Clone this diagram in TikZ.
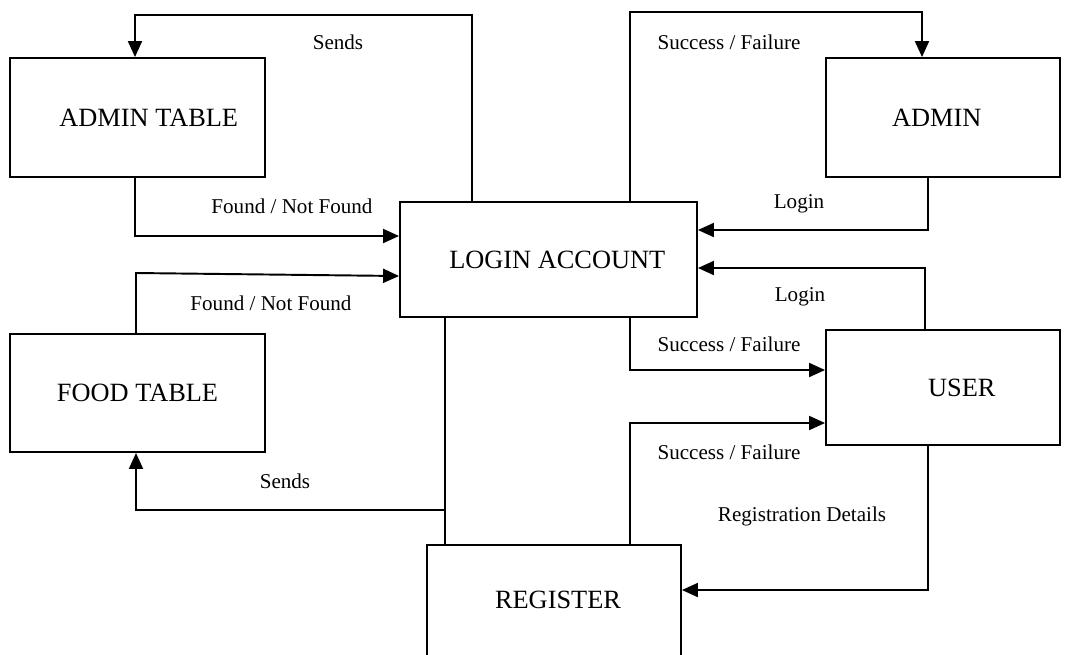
\documentclass[tikz,border=0pt]{standalone}
\usepackage{fontspec}
\setmainfont{Liberation Serif}
\usetikzlibrary{arrows.meta}

\tikzset{
  box/.style={draw, line width=1.1pt, minimum width=5.1cm, minimum height=2.38cm,
    font=\fontsize{15}{18}\selectfont},
  lbl/.style={font=\fontsize{12}{14}\selectfont},
  flow/.style={line width=1.1pt, -{Triangle[length=0.32cm,width=0.28cm]}},
  wire/.style={line width=1.1pt}
}

\begin{document}
\begin{tikzpicture}[x=0.02cm,y=-0.02cm]
      \useasboundingbox (0,0) rectangle (1071,654);

      % The boxes
      \node[box] (admintbl) at (137.5,117.5) {\hspace*{0.45cm}ADMIN TABLE};
      \node[box, minimum width=4.68cm] (admin) at (943,117.5) {ADMIN\hspace*{0.25cm}};
      \node[box, minimum width=5.94cm, minimum height=2.3cm] (login) at (548.5,259.5) {\hspace*{0.35cm}LOGIN ACCOUNT};
      \node[box, minimum height=2.36cm] (foodtbl) at (137.5,393) {FOOD TABLE};
      \node[box, minimum width=4.68cm, minimum height=2.3cm] (user) at (943,387.5) {\hspace*{0.75cm}USER};
      \node[box, minimum width=5.08cm, minimum height=3.8cm] (register) at (554,640) {};
      \node[font=\fontsize{15}{18}\selectfont] (regtext) at (558,600) {REGISTER};

      % Top loops
      \draw[flow] (login.north -| 472,0) |- (135,15) -- (admintbl.north -| 135,0);
      \draw[flow] (login.north -| 630,0) |- (922,12) -- (admin.north -| 922,0);

      % Tables to login
      \draw[flow] (admintbl.south -| 135,0) |- (login.west |- 0,236);
      \draw[flow] (foodtbl.north -| 136,0) -- (136,273) -- (login.west |- 0,276);

      % Admin and user to login
      \draw[flow] (admin.south -| 928,0) |- (login.east |- 0,230);
      \draw[flow] (user.north -| 925,0) |- (login.east |- 0,268);

      % Replies to user
      \draw[flow] (login.south -| 630,0) |- (user.west |- 0,370);
      \draw[flow] (register.north -| 630,0) |- (user.west |- 0,423);

      % User to register
      \draw[flow] (user.south -| 928,0) |- (register.east |- 0,590);

      % Login to register and food table
      \draw[wire] (login.south -| 445,0) -- (register.north -| 445,0);
      \coordinate (split) at (445,510);
      \draw[flow] (split) -| (foodtbl.south -| 136,0);

      % Labels
      \node[lbl] at (338,42) {Sends};
      \node[lbl] at (729,42) {Success / Failure};
      \node[lbl] at (292,206) {Found / Not Found};
      \node[lbl] at (271,303) {Found / Not Found};
      \node[lbl] at (799,204) {Login};
      \node[lbl] at (800,297) {Login};
      \node[lbl] at (729,344) {Success / Failure};
      \node[lbl] at (729,452) {Success / Failure};
      \node[lbl] at (802,516) {Registration Details};
      \node[lbl] at (285,481) {Sends};
    \end{tikzpicture}
\end{document}
